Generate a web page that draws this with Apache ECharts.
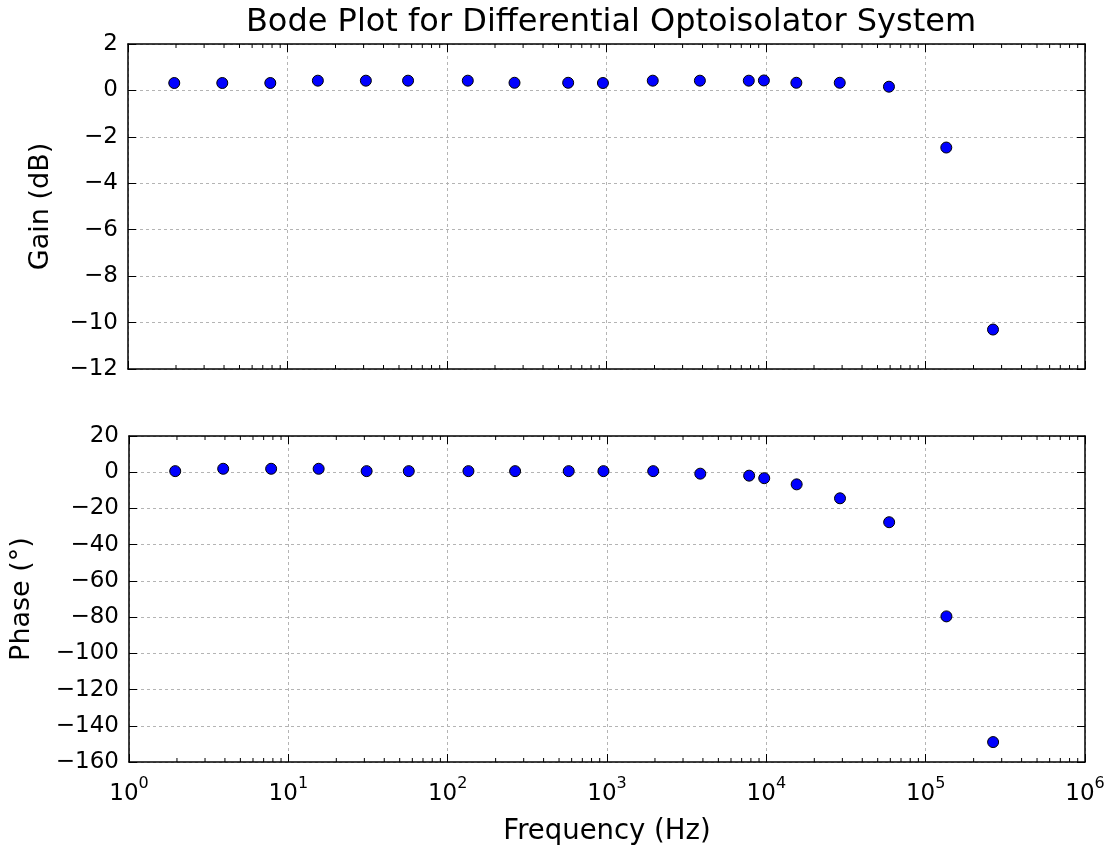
<!DOCTYPE html>
<html>
<head>
<meta charset="utf-8">
<script src="https://cdn.jsdelivr.net/npm/echarts@6/dist/echarts.min.js"></script>
<style>
html,body{margin:0;padding:0;background:#fff;}
#chart{width:1110px;height:849px;}
</style>
</head>
<body>
<div id="chart"></div>
<script>
// ---- data ----
const frequencyHz = [1.95, 3.9, 7.8, 15.5, 31, 57, 135, 265, 575, 950, 1950, 3850, 7800, 9700, 15500, 29000, 59000, 135000, 265000];
const gainDb = [0.32, 0.32, 0.32, 0.42, 0.42, 0.42, 0.42, 0.33, 0.33, 0.32, 0.42, 0.42, 0.42, 0.43, 0.33, 0.33, 0.16, -2.46, -10.3];
const phaseDeg = [0.6, 1.9, 1.9, 1.9, 0.6, 0.6, 0.6, 0.6, 0.6, 0.6, 0.6, -0.8, -1.9, -3.3, -6.7, -14.4, -27.6, -79.6, -149];
const minorTicks = [2,3,4,5,6,7,8,9, 20,30,40,50,60,70,80,90, 200,300,400,500,600,700,800,900,
  2000,3000,4000,5000,6000,7000,8000,9000, 20000,30000,40000,50000,60000,70000,80000,90000,
  200000,300000,400000,500000,600000,700000,800000,900000];
const gainTicks = {min: -12, max: 2, interval: 2};
const phaseTicks = {min: -160, max: 20, interval: 20};
const freqRange = {min: 1, max: 1e6};

const FONT = 'DejaVu Sans';
const MINUS = '\u2212';
const gainPts = frequencyHz.map((f, i) => [f, gainDb[i]]);
const phasePts = frequencyHz.map((f, i) => [f, phaseDeg[i]]);

const gridLine = {show: true, lineStyle: {color: '#b4b4b4', type: [3, 3], width: 1}};
const frameLine = {show: true, onZero: false, lineStyle: {color: '#000', width: 1.5}};
const tickIn = {show: true, inside: true, length: 8, lineStyle: {color: '#000', width: 1}};

function numLabel(v) { return (v < 0 ? MINUS : '') + Math.abs(v); }
function expLabel(v) {
  const n = Math.round(Math.log10(v));
  return '{b|10}{e|' + n + '}';
}

function xAxisPair(gi, showLabels) {
  return [
    {
      type: 'log', logBase: 10, gridIndex: gi, min: freqRange.min, max: freqRange.max, splitNumber: 6,
      position: 'bottom', axisLine: frameLine, axisTick: tickIn, splitLine: gridLine,
      axisLabel: showLabels ? {
        show: true, margin: 14, formatter: expLabel, color: '#000',
        rich: {
          b: {fontFamily: FONT, fontSize: 23, color: '#000', verticalAlign: 'bottom', lineHeight: 30},
          e: {fontFamily: FONT, fontSize: 16, color: '#000', verticalAlign: 'top', lineHeight: 30, padding: [0, 0, 12, 0]}
        }
      } : {show: false},
      name: showLabels ? 'Frequency (Hz)' : '', nameLocation: 'middle', nameGap: 56,
      nameTextStyle: {fontFamily: FONT, fontSize: 27.5, color: '#000'}
    },
    {
      type: 'log', logBase: 10, gridIndex: gi, min: freqRange.min, max: freqRange.max, splitNumber: 6,
      position: 'top', axisLine: frameLine, axisTick: tickIn, splitLine: {show: false}, axisLabel: {show: false}
    }
  ];
}
function yAxisPair(gi, t, name, gap) {
  return [
    {
      type: 'value', gridIndex: gi, min: t.min, max: t.max, interval: t.interval, position: 'left',
      axisLine: frameLine, axisTick: tickIn, splitLine: gridLine,
      axisLabel: {show: true, margin: 10, formatter: numLabel, fontFamily: FONT, fontSize: 23, color: '#000'},
      name: name, nameLocation: 'middle', nameGap: gap,
      nameTextStyle: {fontFamily: FONT, fontSize: 27, color: '#000'}
    },
    {
      type: 'value', gridIndex: gi, min: t.min, max: t.max, interval: t.interval, position: 'right',
      axisLine: frameLine, axisTick: tickIn, splitLine: {show: false}, axisLabel: {show: false}
    }
  ];
}

function minorTickSeries(xi, yi, ymin) {
  return {
    type: 'custom', xAxisIndex: xi, yAxisIndex: yi, silent: true, clip: false, z: 5,
    data: minorTicks.map(v => [v, ymin]),
    renderItem: function (params, api) {
      const x = api.coord([api.value(0), api.value(1)])[0];
      const cs = params.coordSys;
      const st = {stroke: '#000', lineWidth: 1};
      return {type: 'group', children: [
        {type: 'line', shape: {x1: x, y1: cs.y, x2: x, y2: cs.y + 4}, style: st},
        {type: 'line', shape: {x1: x, y1: cs.y + cs.height, x2: x, y2: cs.y + cs.height - 4}, style: st}
      ]};
    }
  };
}

const dotStyle = {color: '#0000ff', borderColor: '#000', borderWidth: 1, opacity: 1};

const option = {
  backgroundColor: '#fff',
  animation: false,
  title: {
    text: 'Bode Plot for Differential Optoisolator System',
    left: 606, top: 2, textAlign: 'center',
    textStyle: {fontFamily: FONT, fontSize: 32, fontWeight: 'normal', color: '#000'}
  },
  grid: [
    {left: 128, right: 25, top: 44, height: 325},
    {left: 128, right: 25, top: 436, height: 326}
  ],
  xAxis: [...xAxisPair(0, false), ...xAxisPair(1, true)],
  yAxis: [...yAxisPair(0, gainTicks, 'Gain (dB)', 74), ...yAxisPair(1, phaseTicks, 'Phase (\u00b0)', 94)],
  series: [
    {type: 'scatter', xAxisIndex: 0, yAxisIndex: 0, data: gainPts, symbolSize: 11, itemStyle: dotStyle, z: 10},
    {type: 'scatter', xAxisIndex: 2, yAxisIndex: 2, data: phasePts, symbolSize: 11, itemStyle: dotStyle, z: 10},
    minorTickSeries(0, 0, gainTicks.min),
    minorTickSeries(2, 2, phaseTicks.min)
  ]
};

const chart = echarts.init(document.getElementById('chart'), null, {renderer: 'canvas'});
chart.setOption(option);
</script>
</body>
</html>
